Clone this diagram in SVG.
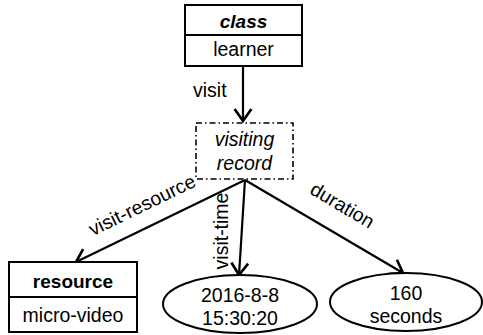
<svg xmlns="http://www.w3.org/2000/svg" width="483" height="335" viewBox="0 0 483 335">
  <style>
    text { font-family: "Liberation Sans", Arial, sans-serif; font-size: 19.5px; fill: #000; }
    .c { text-anchor: middle; }
    .box { fill: #fff; stroke: #000; stroke-width: 2; }
    .div { stroke: #000; stroke-width: 2; }
    .dash { fill: #fff; stroke: #000; stroke-width: 1.6; stroke-dasharray: 6 3 1.5 3; }
    .edge { fill: none; stroke: #000; stroke-width: 2.2; marker-end: url(#arrow); }
    .b { font-weight: bold; font-size: 19px; }
    .i { font-style: italic; }
  </style>
  <defs>
    <marker id="arrow" markerUnits="userSpaceOnUse" markerWidth="24" markerHeight="24" viewBox="-12 -10 14 20" refX="0" refY="0" orient="auto">
      <path d="M-10,-7 L0,0 L-10,7" fill="none" stroke="#000" stroke-width="2.2"/>
    </marker>
  </defs>

  <g id="connectors">
    <line class="edge" x1="243" y1="66" x2="243" y2="121"/>
    <line class="edge" x1="245" y1="180" x2="76" y2="262"/>
    <line class="edge" x1="245" y1="180" x2="239" y2="275"/>
    <line class="edge" x1="245" y1="180" x2="403" y2="273"/>
    <text x="193" y="97">visit</text>
    <text class="c" transform="translate(145,211) rotate(-25.9)">visit-resource</text>
    <text class="c" transform="translate(228,231) rotate(-90)">visit-time</text>
    <text class="c" transform="translate(339,211) rotate(30.5)">duration</text>
  </g>

  <g id="learner">
    <rect class="box" x="185" y="5" width="117" height="61"/>
    <line class="div" x1="185" y1="35" x2="302" y2="35"/>
    <text class="c b i" x="243.5" y="28">class</text>
    <text class="c" x="243.5" y="56">learner</text>
  </g>

  <g id="visiting-record">
    <rect class="dash" x="196" y="123" width="97" height="56"/>
    <text class="c i" x="244.5" y="146">visiting</text>
    <text class="c i" x="244.5" y="170">record</text>
  </g>

  <g id="resource">
    <rect class="box" x="9" y="262" width="128" height="70"/>
    <line class="div" x1="9" y1="297" x2="137" y2="297"/>
    <text class="c b" x="73" y="288">resource</text>
    <text class="c" x="73" y="322">micro-video</text>
  </g>

  <g id="visit-time-value">
    <ellipse class="box" cx="240" cy="304" rx="77" ry="29"/>
    <text class="c" x="240" y="302">2016-8-8</text>
    <text class="c" x="240" y="325">15:30:20</text>
  </g>

  <g id="duration-value">
    <ellipse class="box" cx="406" cy="302" rx="76" ry="29"/>
    <text class="c" x="406" y="300">160</text>
    <text class="c" x="406" y="323">seconds</text>
  </g>
</svg>
